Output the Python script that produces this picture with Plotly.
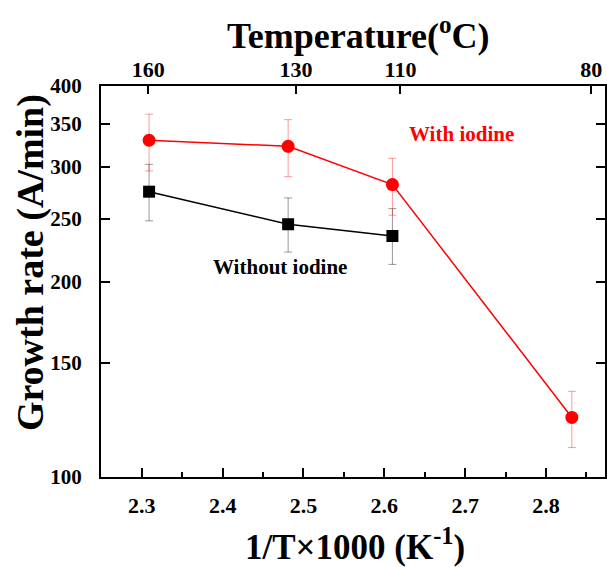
import plotly.graph_objects as go

# ---- data ----
x_with = [2.309, 2.481, 2.610, 2.832]
y_with = [330, 323, 282, 123.5]
err_with_plus = [32, 32, 27.5, 12]
err_with_minus = [34, 33, 29, 12.5]

x_without = [2.309, 2.481, 2.610]
y_without = [275, 245, 235]
err_without_plus = [28, 24, 24]
err_without_minus = [27, 23, 22.5]

x_ticks = [2.3, 2.4, 2.5, 2.6, 2.7, 2.8]
x_ticklabels = ["2.3", "2.4", "2.5", "2.6", "2.7", "2.8"]
y_ticks = [100, 150, 200, 250, 300, 350, 400]
y_ticklabels = ["100", "150", "200", "250", "300", "350", "400"]
top_tick_pos = [2.308, 2.4906, 2.620, 2.856]
top_tick_labels = ["160", "130", "110", "80"]

FONT = "Liberation Serif"

fig = go.Figure()

fig.add_trace(go.Scatter(
    x=x_without, y=y_without, mode="lines+markers", name="Without iodine",
    line=dict(color="black", width=1.5),
    marker=dict(symbol="square", size=12, color="black"),
    error_y=dict(type="data", symmetric=False, array=err_without_plus,
                 arrayminus=err_without_minus, color="rgba(0,0,0,0.4)",
                 thickness=1, width=4),
))
fig.add_trace(go.Scatter(
    x=x_with, y=y_with, mode="lines+markers", name="With iodine",
    line=dict(color="red", width=1.5),
    marker=dict(symbol="circle", size=13, color="red"),
    error_y=dict(type="data", symmetric=False, array=err_with_plus,
                 arrayminus=err_with_minus, color="rgba(255,0,0,0.4)",
                 thickness=1, width=4),
))
# invisible trace to activate the top axis
fig.add_trace(go.Scatter(x=top_tick_pos, y=[200] * len(top_tick_pos), xaxis="x2",
                         mode="markers", marker=dict(opacity=0), hoverinfo="skip",
                         showlegend=False))

xrange = [2.2495, 2.873]
fig.update_layout(
    width=607, height=567,
    margin=dict(l=101, r=2, t=86, b=90, autoexpand=False),
    paper_bgcolor="white", plot_bgcolor="white",
    showlegend=False,
    font=dict(family=FONT, color="black"),
    xaxis=dict(
        range=xrange, tickvals=x_ticks, ticktext=x_ticklabels, automargin=False,
        ticks="inside", ticklen=9, tickwidth=1.5, tickcolor="black",
        minor=dict(dtick=0.05, tick0=2.25, ticks="inside", ticklen=5, tickwidth=1.5, tickcolor="black"),
        showline=True, linecolor="black", linewidth=2, mirror=True,
        showgrid=False, zeroline=False,
        tickfont=dict(family=FONT, size=22, weight="bold"),
        ticklabelstandoff=8,
    ),
    xaxis2=dict(
        overlaying="x", side="top", anchor="y", range=xrange, automargin=False,
        tickvals=top_tick_pos, ticktext=top_tick_labels,
        ticks="inside", ticklen=8, tickwidth=1.5, tickcolor="black",
        showline=False, showgrid=False, zeroline=False,
        tickfont=dict(family=FONT, size=22, weight="bold"),
        ticklabelstandoff=4,
    ),
    yaxis=dict(
        type="log", range=[2, 2.60206], automargin=False,
        tickvals=y_ticks, ticktext=y_ticklabels,
        ticks="inside", ticklen=9, tickwidth=1.5, tickcolor="black",
        showline=True, linecolor="black", linewidth=2, mirror="ticks",
        showgrid=False, zeroline=False,
        tickfont=dict(family=FONT, size=21, weight="bold"),
        ticklabelstandoff=13,
    ),
    annotations=[
        dict(x=2.695, y=2.5284, xref="x", yref="y", text="With iodine", showarrow=False,
             font=dict(family=FONT, size=21, color="red", weight="bold")),
        dict(x=2.471, y=2.3226, xref="x", yref="y", text="Without iodine", showarrow=False,
             font=dict(family=FONT, size=21, color="black", weight="bold")),
        dict(x=0.504, y=0, xref="paper", yref="paper", yanchor="middle", yshift=-67,
             text="1/T\u00d71000 (K<sup>-1</sup>)", showarrow=False,
             font=dict(family=FONT, size=35, weight="bold")),
        dict(x=0, y=0.547, xref="paper", yref="paper", xanchor="center", yanchor="middle",
             xshift=-71, textangle=-90, text="Growth rate (A/min)", showarrow=False,
             font=dict(family=FONT, size=38, weight="bold")),
        dict(x=0.51, y=1, xref="paper", yref="paper", yanchor="middle", yshift=53,
             text="Temperature(<sup>o</sup>C)", showarrow=False,
             font=dict(family=FONT, size=36, weight="bold")),
    ],
)

fig.write_html("out.html", config={"displayModeBar": False},
               post_script="document.body.style.margin='0';document.body.style.overflow='hidden';")
